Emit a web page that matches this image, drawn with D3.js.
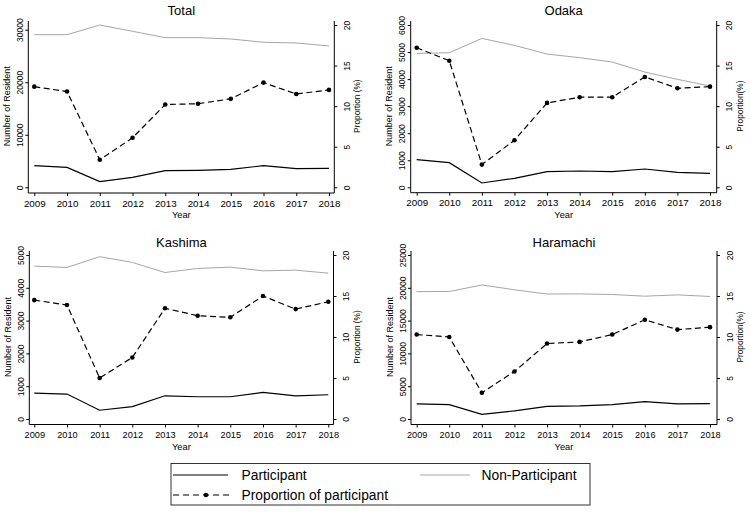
<!DOCTYPE html>
<html>
<head>
<meta charset="utf-8">
<script src="https://cdn.jsdelivr.net/npm/d3@7"></script>
<style>
  html, body { margin: 0; padding: 0; background: #fff; }
  svg { display: block; font-family: "Liberation Sans", Arial, Helvetica, sans-serif; }
</style>
</head>
<body>
<svg id="chart" width="750" height="514"></svg>
<script>
// ---------- data ----------
const years = [2009, 2010, 2011, 2012, 2013, 2014, 2015, 2016, 2017, 2018];

const totalParticipant    = [4115, 3800, 1076, 1900, 3165, 3230, 3420, 4115, 3545, 3610];
const totalNonParticipant = [29050, 29050, 30890, 29690, 28480, 28480, 28230, 27600, 27470, 26900];
const totalProportion     = [12.4, 11.8, 3.4, 6.1, 10.2, 10.3, 10.9, 12.9, 11.5, 12.0];

const odakaParticipant    = [1022, 911, 160, 332, 579, 603, 579, 677, 554, 517];
const odakaNonParticipant = [4951, 4975, 5505, 5246, 4926, 4791, 4631, 4261, 3990, 3744];
const odakaProportion     = [17.2, 15.6, 2.8, 5.8, 10.4, 11.1, 11.1, 13.6, 12.2, 12.4];

const kashimaParticipant    = [790, 760, 267, 380, 708, 678, 678, 811, 708, 739];
const kashimaNonParticipant = [4661, 4620, 4949, 4774, 4466, 4589, 4630, 4517, 4538, 4446];
const kashimaProportion     = [14.5, 13.9, 5.0, 7.5, 13.5, 12.6, 12.4, 15.0, 13.4, 14.3];

const haramachiParticipant    = [2320, 2180, 700, 1250, 1930, 1990, 2200, 2660, 2310, 2340];
const haramachiNonParticipant = [19420, 19430, 20430, 19700, 19050, 19070, 18980, 18720, 18920, 18680];
const haramachiProportion     = [10.3, 10.0, 3.2, 5.8, 9.2, 9.4, 10.3, 12.1, 10.9, 11.2];

const totalLeftTicks     = [0, 10000, 20000, 30000];
const odakaLeftTicks     = [0, 1000, 2000, 3000, 4000, 5000, 6000];
const kashimaLeftTicks   = [0, 1000, 2000, 3000, 4000, 5000];
const haramachiLeftTicks = [0, 5000, 10000, 15000, 20000, 25000];
const proportionTicks    = [0, 5, 10, 15, 20];

const titles = ["Total", "Odaka", "Kashima", "Haramachi"];
const leftTitle = "Number of Resident";
const rightTitles = ["Proportion (%)", "Proportion(%)", "Proportion (%)", "Proportion(%)"];
const legendLabels = ["Participant", "Non-Participant", "Proportion of participant"];

// ---------- layout ----------
const panels = [
  { title: titles[0], part: totalParticipant, non: totalNonParticipant, prop: totalProportion, lt: totalLeftTicks, rt: rightTitles[0],
    x0: 34.3, x1: 329, yB: 187.3, yT: 25, aL: 28.3, aR: 334.3, aB: 193, titleY: 14.5, xlabY: 206.5, yearY: 218, xfs: 9.8 },
  { title: titles[1], part: odakaParticipant, non: odakaNonParticipant, prop: odakaProportion, lt: odakaLeftTicks, rt: rightTitles[1],
    x0: 416.7, x1: 710, yB: 187.3, yT: 25, aL: 410.7, aR: 716.7, aB: 192.7, titleY: 14.5, xlabY: 206.5, yearY: 218, xfs: 9.8 },
  { title: titles[2], part: kashimaParticipant, non: kashimaNonParticipant, prop: kashimaProportion, lt: kashimaLeftTicks, rt: rightTitles[2],
    x0: 34.3, x1: 328.3, yB: 419, yT: 255, aL: 29.3, aR: 333.5, aB: 424.5, titleY: 246.5, xlabY: 438, yearY: 449.5, xfs: 9.2 },
  { title: titles[3], part: haramachiParticipant, non: haramachiNonParticipant, prop: haramachiProportion, lt: haramachiLeftTicks, rt: rightTitles[3],
    x0: 416.7, x1: 710, yB: 419, yT: 255, aL: 411, aR: 717, aB: 424.5, titleY: 246.5, xlabY: 438, yearY: 449.5, xfs: 9.2 }
];

const svg = d3.select("#chart");

panels.forEach(p => {
  const g = svg.append("g");
  const x = d3.scaleLinear().domain([years[0], years[years.length - 1]]).range([p.x0, p.x1]);
  const leftMax = Math.max(d3.max(p.non), d3.max(p.lt));
  const yL = d3.scaleLinear().domain([0, leftMax]).range([p.yB, p.yT]);
  const yR = d3.scaleLinear().domain([0, 20]).range([p.yB, p.yT]);

  // axis lines
  const axTop = p.yT - 4;
  g.append("line").attr("x1", p.aL).attr("x2", p.aL).attr("y1", axTop).attr("y2", p.aB)
    .attr("stroke", "#000").attr("stroke-width", 1);
  g.append("line").attr("x1", p.aR).attr("x2", p.aR).attr("y1", axTop).attr("y2", p.aB)
    .attr("stroke", "#000").attr("stroke-width", 1);
  g.append("line").attr("x1", p.aL).attr("x2", p.aR).attr("y1", p.aB).attr("y2", p.aB)
    .attr("stroke", "#000").attr("stroke-width", 1);

  // bottom axis
  const xa = g.append("g").attr("transform", `translate(0,${p.aB})`)
    .call(d3.axisBottom(x).tickValues(years).tickFormat(d3.format("d")).tickSize(3).tickSizeOuter(0));
  xa.select(".domain").remove();
  xa.selectAll("line").attr("stroke", "#000");
  xa.selectAll("text").attr("y", p.xlabY - p.aB).attr("dy", null)
    .attr("font-size", p.xfs).attr("fill", "#000").attr("font-family", null);

  // left axis
  const la = g.append("g").attr("transform", `translate(${p.aL},0)`)
    .call(d3.axisLeft(yL).tickValues(p.lt).tickFormat(d3.format("d")).tickSize(3).tickSizeOuter(0));
  la.select(".domain").remove();
  la.selectAll("line").attr("stroke", "#000");
  la.selectAll("text").attr("transform", "rotate(-90)").attr("x", 0).attr("y", -5.5).attr("dy", null)
    .attr("text-anchor", "middle").attr("font-size", 8.5).attr("fill", "#000").attr("font-family", null);

  // right axis
  const ra = g.append("g").attr("transform", `translate(${p.aR},0)`)
    .call(d3.axisRight(yR).tickValues(proportionTicks).tickFormat(d3.format("d")).tickSize(3).tickSizeOuter(0));
  ra.select(".domain").remove();
  ra.selectAll("line").attr("stroke", "#000");
  ra.selectAll("text").attr("transform", "rotate(-90)").attr("x", 0).attr("y", 15.5).attr("dy", null)
    .attr("text-anchor", "middle").attr("font-size", 8.5).attr("fill", "#000").attr("font-family", null);

  // titles
  const midX = (p.aL + p.aR) / 2;
  const midY = (p.yB + p.yT) / 2;
  g.append("text").attr("x", midX).attr("y", p.titleY).attr("text-anchor", "middle")
    .attr("font-size", 13).text(p.title);
  g.append("text").attr("x", midX).attr("y", p.yearY).attr("text-anchor", "middle")
    .attr("font-size", 9.3).text("Year");
  g.append("text").attr("transform", `translate(${p.aL - 18.5},${midY}) rotate(-90)`)
    .attr("text-anchor", "middle").attr("font-size", 9).text(leftTitle);
  g.append("text").attr("transform", `translate(${p.aR + 26},${midY}) rotate(-90)`)
    .attr("text-anchor", "middle").attr("font-size", 8.3).text(p.rt);

  // lines
  const lineL = arr => d3.line().x((d, i) => x(years[i])).y(d => yL(d))(arr);
  const lineR = d3.line().x((d, i) => x(years[i])).y(d => yR(d));

  g.append("path").attr("d", lineL(p.non)).attr("fill", "none")
    .attr("stroke", "#a6a6a6").attr("stroke-width", 1);
  g.append("path").attr("d", lineL(p.part)).attr("fill", "none")
    .attr("stroke", "#000").attr("stroke-width", 1.2);
  g.append("path").attr("d", lineR(p.prop)).attr("fill", "none")
    .attr("stroke", "#000").attr("stroke-width", 1.2).attr("stroke-dasharray", "6,3.5");
  g.selectAll("circle.pt").data(p.prop).enter().append("circle")
    .attr("class", "pt")
    .attr("cx", (d, i) => x(years[i])).attr("cy", d => yR(d)).attr("r", 2.3).attr("fill", "#000");
});

// ---------- legend ----------
const lg = svg.append("g");
lg.append("rect").attr("x", 171).attr("y", 463.5).attr("width", 419).attr("height", 41.5)
  .attr("fill", "#fff").attr("stroke", "#333").attr("stroke-width", 1);
lg.append("line").attr("x1", 173).attr("x2", 228).attr("y1", 475).attr("y2", 475)
  .attr("stroke", "#000").attr("stroke-width", 1.2);
lg.append("text").attr("x", 241.5).attr("y", 480).attr("font-size", 13.8).text(legendLabels[0]);
lg.append("line").attr("x1", 420).attr("x2", 470).attr("y1", 475).attr("y2", 475)
  .attr("stroke", "#a6a6a6").attr("stroke-width", 1);
lg.append("text").attr("x", 481.5).attr("y", 480).attr("font-size", 13.8).text(legendLabels[1]);
lg.append("line").attr("x1", 173).attr("x2", 230).attr("y1", 495).attr("y2", 495)
  .attr("stroke", "#000").attr("stroke-width", 1.2).attr("stroke-dasharray", "6,4");
lg.append("circle").attr("cx", 206).attr("cy", 495).attr("r", 2.3).attr("fill", "#000");
lg.append("text").attr("x", 241.5).attr("y", 500).attr("font-size", 13.8).text(legendLabels[2]);
</script>
</body>
</html>
